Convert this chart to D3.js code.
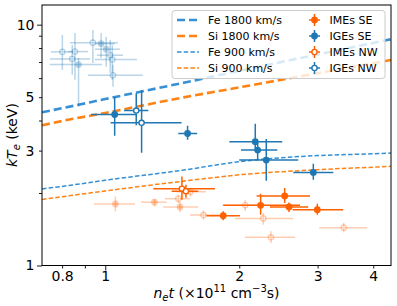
<!DOCTYPE html>
<html>
<head>
<meta charset="utf-8">
<script src="https://cdn.jsdelivr.net/npm/d3@7"></script>
<style>
  body { margin: 0; background: #fff; }
  svg { font-family: "DejaVu Sans", sans-serif; }
</style>
</head>
<body>
<div id="chart"></div>
<script>
// model curves, sampled along n_e t
const curveX = [0.721, 0.8, 1.0, 1.5, 2.0, 3.0, 4.0, 4.385];
const fe1800 = [4.33, 4.50, 4.91, 5.74, 6.43, 7.52, 8.40, 8.70];
const si1800 = [3.82, 3.98, 4.30, 4.99, 5.49, 6.29, 6.92, 7.14];
const fe900 = [2.08, 2.13, 2.26, 2.49, 2.70, 2.86, 2.91, 2.93];
const si900 = [1.88, 1.93, 2.04, 2.24, 2.38, 2.50, 2.56, 2.58];

// points: [net, netLo, netHi, kT, kTLo, kTHi]
const imesSE = [
  [1.841, 1.688, 2.007, 1.610, 1.540, 1.678],
  [2.234, 1.841, 2.738, 1.777, 1.625, 1.987],
  [2.530, 2.188, 2.884, 1.944, 1.818, 2.098],
  [2.587, 2.344, 2.858, 1.750, 1.668, 1.828],
  [2.995, 2.636, 3.426, 1.705, 1.625, 1.806]
];
const igesSE = [
  [1.050, 0.929, 1.172, 4.237, 3.456, 5.013],
  [1.531, 1.459, 1.609, 3.533, 3.327, 3.802],
  [2.173, 1.900, 2.499, 3.265, 3.043, 3.876],
  [2.200, 2.018, 2.435, 3.015, 2.748, 3.233],
  [2.300, 2.000, 2.714, 2.741, 2.249, 3.350],
  [2.934, 2.645, 3.253, 2.435, 2.270, 2.646]
];
const imesNW = [
  [1.487, 1.282, 1.764, 2.084, 1.876, 2.343],
  [1.518, 1.410, 1.618, 2.035, 1.912, 2.165]
];
const igesNW = [
  [1.174, 1.102, 1.250, 4.399, 3.821, 5.185],
  [1.207, 1.028, 1.484, 3.913, 2.939, 5.361]
];
// faded points
const imesSEFaint = [
  [1.054, 0.943, 1.166, 1.800, 1.678, 1.936],
  [1.290, 1.203, 1.374, 1.832, 1.760, 1.888],
  [1.472, 1.350, 1.618, 1.750, 1.662, 1.846]
];
const imesNWFaint = [
  [1.459, 1.362, 1.550, 1.894, 1.818, 1.968],
  [1.554, 1.447, 1.684, 2.025, 1.936, 2.104],
  [1.662, 1.550, 1.810, 1.621, 1.550, 1.694],
  [2.063, 1.835, 2.249, 1.780, 1.689, 1.876],
  [2.265, 1.956, 2.645, 1.569, 1.478, 1.652],
  [2.357, 2.060, 2.668, 1.309, 1.241, 1.386],
  [3.433, 3.026, 3.879, 1.436, 1.373, 1.502]
];
const igesSEFaint = [
  [0.871, 0.751, 0.983, 6.83, 4.56, 7.28],
  [0.979, 0.948, 1.051, 8.34, 7.28, 9.24],
  [1.005, 0.948, 1.079, 7.91, 6.68, 8.89]
];
const igesNWFaint = [
  [0.801, 0.755, 0.846, 7.71, 6.49, 9.06],
  [0.855, 0.824, 0.914, 7.73, 5.90, 9.24],
  [0.843, 0.751, 0.924, 7.21, 6.19, 8.24],
  [0.938, 0.833, 1.068, 8.42, 6.94, 9.51],
  [1.026, 0.958, 1.096, 7.47, 6.31, 8.64],
  [1.037, 0.948, 1.178, 7.16, 5.90, 8.24],
  [1.041, 0.914, 1.215, 6.17, 5.52, 6.81]
];

const xTickVals = [0.8, 1, 2, 3, 4];
const yTickVals = [1, 3, 5, 10];

const blue = "#1f77b4", orange = "#ff6000";
const lineBlue = "#3590d6", lineOrange = "#ff8214";

const W = 397, H = 306;
const svg = d3.select("#chart").append("svg")
  .attr("width", W).attr("height", H);

const x = d3.scaleLog().domain([0.721, 4.385]).range([42, 391]);
const y = d3.scaleLog().domain([1, 12.07]).range([265.5, 5]);

svg.append("clipPath").attr("id", "clip")
  .append("rect").attr("x", 42).attr("y", 5).attr("width", 349).attr("height", 260.5);

const plot = svg.append("g").attr("clip-path", "url(#clip)");

// model lines
const line = d3.line().x(d => x(d[0])).y(d => y(d[1])).curve(d3.curveMonotoneX);
const models = [
  {vals: fe1800, color: lineBlue, w: 2.6, dash: "8,4"},
  {vals: si1800, color: lineOrange, w: 2.6, dash: "8,4"},
  {vals: fe900, color: lineBlue, w: 1.5, dash: "4.5,2.2"},
  {vals: si900, color: lineOrange, w: 1.5, dash: "4.5,2.2"}
];
models.forEach(m => {
  plot.append("path")
    .datum(curveX.map((v, i) => [v, m.vals[i]]))
    .attr("d", line)
    .attr("fill", "none")
    .attr("stroke", m.color)
    .attr("stroke-width", m.w)
    .attr("stroke-dasharray", m.dash);
});

// error bar points
function drawPoints(data, color, open, alpha) {
  const g = plot.append("g");
  data.forEach(d => {
    g.append("line")
      .attr("x1", x(d[1])).attr("x2", x(d[2]))
      .attr("y1", y(d[3])).attr("y2", y(d[3]))
      .attr("stroke", color).attr("stroke-width", 1.5).attr("opacity", alpha);
    g.append("line")
      .attr("x1", x(d[0])).attr("x2", x(d[0]))
      .attr("y1", y(d[4])).attr("y2", y(d[5]))
      .attr("stroke", color).attr("stroke-width", 1.5).attr("opacity", alpha);
  });
  g.selectAll("circle").data(data).join("circle")
    .attr("cx", d => x(d[0]))
    .attr("cy", d => y(d[3]))
    .attr("r", open ? 2.6 : 3.4)
    .attr("fill", open ? "#fff" : color)
    .attr("stroke", open ? color : "none")
    .attr("stroke-width", 1.4)
    .attr("opacity", alpha);
}

drawPoints(igesNWFaint, blue, true, 0.3);
drawPoints(igesSEFaint, blue, false, 0.3);
drawPoints(imesNWFaint, orange, true, 0.3);
drawPoints(imesSEFaint, orange, false, 0.3);
drawPoints(imesSE, orange, false, 1);
drawPoints(igesSE, blue, false, 1);
drawPoints(imesNW, orange, true, 1);
drawPoints(igesNW, blue, true, 1);

// axes
const xMajor = [1], xMinor = [0.8, 0.9, 2, 3, 4];
const yMajor = [1, 10], yMinor = [2, 3, 4, 5, 6, 7, 8, 9];
const fmt = d => String(d);

svg.append("g").attr("transform", "translate(0,265.5)")
  .call(d3.axisBottom(x).tickValues(xMajor).tickSize(5).tickPadding(1).tickFormat(fmt));
svg.append("g").attr("transform", "translate(0,265.5)")
  .call(d3.axisBottom(x).tickValues(xMinor).tickSize(3).tickPadding(3)
    .tickFormat(d => xTickVals.includes(d) ? fmt(d) : ""));
svg.append("g").attr("transform", "translate(42,0)")
  .call(d3.axisLeft(y).tickValues(yMajor).tickSize(5).tickPadding(2.5).tickFormat(fmt));
svg.append("g").attr("transform", "translate(42,0)")
  .call(d3.axisLeft(y).tickValues(yMinor).tickSize(3).tickPadding(4.5)
    .tickFormat(d => yTickVals.includes(d) ? fmt(d) : ""));

svg.selectAll(".tick text")
  .style("font-size", "14px")
  .style("font-family", "DejaVu Sans, sans-serif")
  .attr("fill", "#000");
svg.selectAll(".domain").remove();
svg.selectAll(".tick line").attr("stroke", "#000").attr("stroke-width", 0.9);

// frame
svg.append("rect")
  .attr("x", 42).attr("y", 5).attr("width", 349).attr("height", 260.5)
  .attr("fill", "none").attr("stroke", "#000").attr("stroke-width", 1);

// axis labels
const xl = svg.append("text")
  .attr("x", 216.5).attr("y", 298)
  .attr("text-anchor", "middle")
  .style("font-size", "14px");
xl.append("tspan").attr("font-style", "italic").text("n");
xl.append("tspan").attr("font-style", "italic").attr("font-size", "10px").attr("dy", 3).text("e");
xl.append("tspan").attr("font-style", "italic").attr("dy", -3).text("t");
xl.append("tspan").text(" (×10");
xl.append("tspan").attr("font-size", "10px").attr("dy", -6).text("11");
xl.append("tspan").attr("dy", 6).text(" cm");
xl.append("tspan").attr("font-size", "10px").attr("dy", -6).text("−3");
xl.append("tspan").attr("dy", 6).text("s)");

const yl = svg.append("text")
  .attr("transform", "translate(17,135) rotate(-90)")
  .attr("text-anchor", "middle")
  .style("font-size", "14px");
yl.append("tspan").attr("font-style", "italic").text("kT");
yl.append("tspan").attr("font-style", "italic").attr("font-size", "10px").attr("dy", 3).text("e");
yl.append("tspan").attr("dy", -3).text(" (keV)");

// legend
const leg = svg.append("g");
leg.append("rect")
  .attr("x", 172).attr("y", 10.5).attr("width", 213).attr("height", 68)
  .attr("rx", 3)
  .attr("fill", "#fff").attr("fill-opacity", 0.8)
  .attr("stroke", "#cccccc").attr("stroke-width", 1);

const lineLabels = ["Fe 1800 km/s", "Si 1800 km/s", "Fe 900 km/s", "Si 900 km/s"];
const pointLabels = ["IMEs SE", "IGEs SE", "IMEs NW", "IGEs NW"];
const pointStyles = [[orange, false], [blue, false], [orange, true], [blue, true]];
const rowY = [20, 36, 52, 68];

models.forEach((m, i) => {
  leg.append("line")
    .attr("x1", 177).attr("x2", 199)
    .attr("y1", rowY[i]).attr("y2", rowY[i])
    .attr("stroke", m.color).attr("stroke-width", m.w)
    .attr("stroke-dasharray", m.dash);
  leg.append("text")
    .attr("x", 208).attr("y", rowY[i])
    .attr("dominant-baseline", "central")
    .style("font-size", "11px")
    .text(lineLabels[i]);
});

pointLabels.forEach((lab, i) => {
  const [c, open] = pointStyles[i];
  const cx = 314.5, cy = rowY[i];
  leg.append("line").attr("x1", cx - 5.5).attr("x2", cx + 5.5)
    .attr("y1", cy).attr("y2", cy).attr("stroke", c).attr("stroke-width", 1.5);
  leg.append("line").attr("x1", cx).attr("x2", cx)
    .attr("y1", cy - 6).attr("y2", cy + 6).attr("stroke", c).attr("stroke-width", 1.5);
  leg.append("circle").attr("cx", cx).attr("cy", cy)
    .attr("r", open ? 2.6 : 3.4)
    .attr("fill", open ? "#fff" : c)
    .attr("stroke", open ? c : "none").attr("stroke-width", 1.4);
  leg.append("text")
    .attr("x", 329.5).attr("y", cy)
    .attr("dominant-baseline", "central")
    .style("font-size", "11px")
    .text(lab);
});
</script>
</body>
</html>
